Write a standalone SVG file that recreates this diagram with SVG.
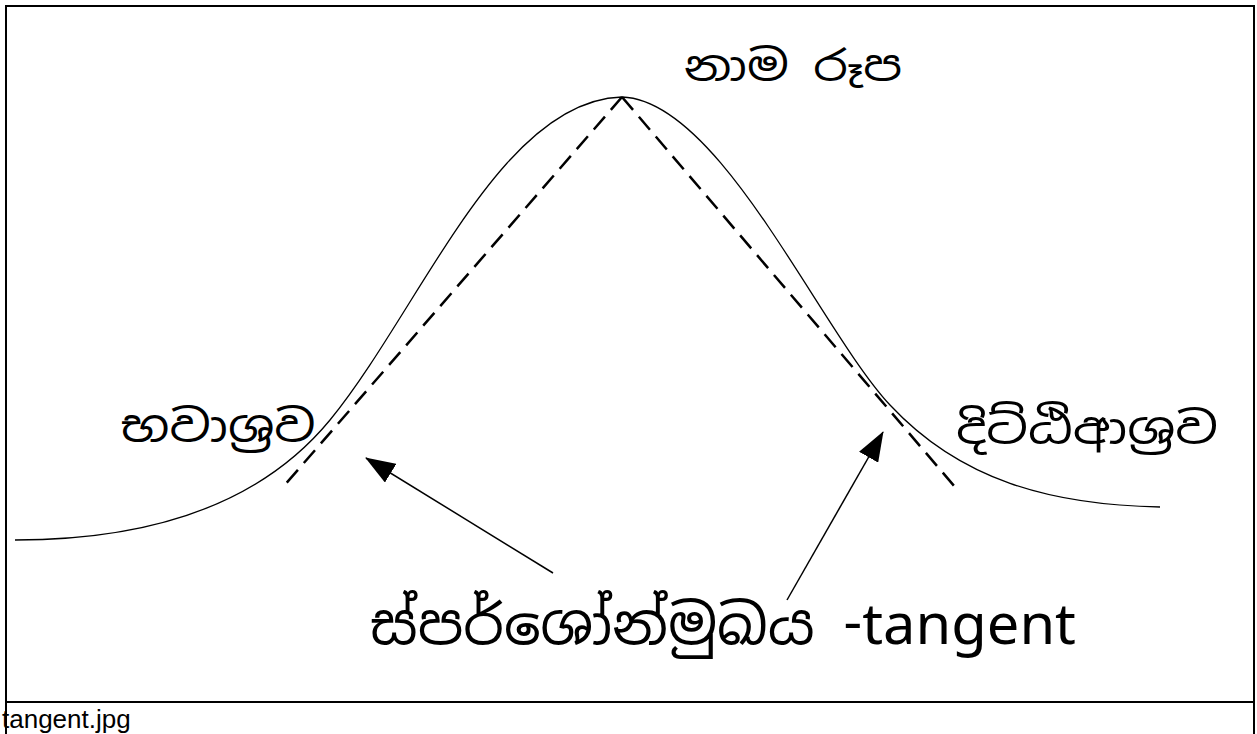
<svg xmlns="http://www.w3.org/2000/svg" width="1257" height="734" viewBox="0 0 1257 734">
<defs>
<style>
.frame{fill:none;stroke:#000;stroke-width:2}
.curve{fill:none;stroke:#000;stroke-width:1.3}
.dash{fill:none;stroke:#000;stroke-width:2.5;stroke-dasharray:17 9}
.arr{fill:none;stroke:#000;stroke-width:1.5}
.si{font-family:"Noto Sans Sinhala","Iskoola Pota","Noto Serif Sinhala","Noto Sans",sans-serif;fill:#000}
.cap{font-family:"Liberation Sans",Arial,sans-serif;font-size:26px;fill:#000}
</style>
<marker id="ahb" viewBox="0 0 30 22" refX="29" refY="11" markerWidth="30" markerHeight="22" markerUnits="userSpaceOnUse" orient="auto">
<path d="M0,0 L30,11 L0,22 z" fill="#000"/>
</marker>
</defs>
<g id="frame">
<path class="frame" d="M6,734 V6 H1254 V734"/>
<line class="frame" x1="6" y1="702" x2="1254" y2="702"/>
</g>
<g id="connectors">
<path id="bell" class="curve" d="M15,540 C150,540 260,505 330,420 C420,310 500,100 622,97 C720,100 820,330 890,405 C960,480 1050,505 1160,507"/>
<line class="dash" x1="622" y1="97" x2="283" y2="487"/>
<line class="dash" x1="622" y1="97" x2="955" y2="487"/>
<line class="arr" x1="553" y1="573" x2="366" y2="458" marker-end="url(#ahb)"/>
<line class="arr" x1="787" y1="600" x2="883" y2="432" marker-end="url(#ahb)"/>
</g>
<g id="label-nama"><text class="si" x="793" y="81" font-size="42" text-anchor="middle" textLength="218" lengthAdjust="spacingAndGlyphs">නාම රූප</text></g>
<g id="label-bhava"><text class="si" x="218" y="442" font-size="44" text-anchor="middle" textLength="195" lengthAdjust="spacingAndGlyphs">භවාශ්‍රව</text></g>
<g id="label-ditthi"><text class="si" x="1087" y="444" font-size="44" text-anchor="middle" textLength="262" lengthAdjust="spacingAndGlyphs">දිට්ඨිආශ්‍රව</text></g>
<g id="label-tangent"><text class="si" x="723" y="644" font-size="56" text-anchor="middle" textLength="706" lengthAdjust="spacingAndGlyphs">ස්පර්ශෝන්මුඛය -tangent</text></g>
<g id="caption"><text class="cap" x="2" y="728">tangent.jpg</text></g>
</svg>
